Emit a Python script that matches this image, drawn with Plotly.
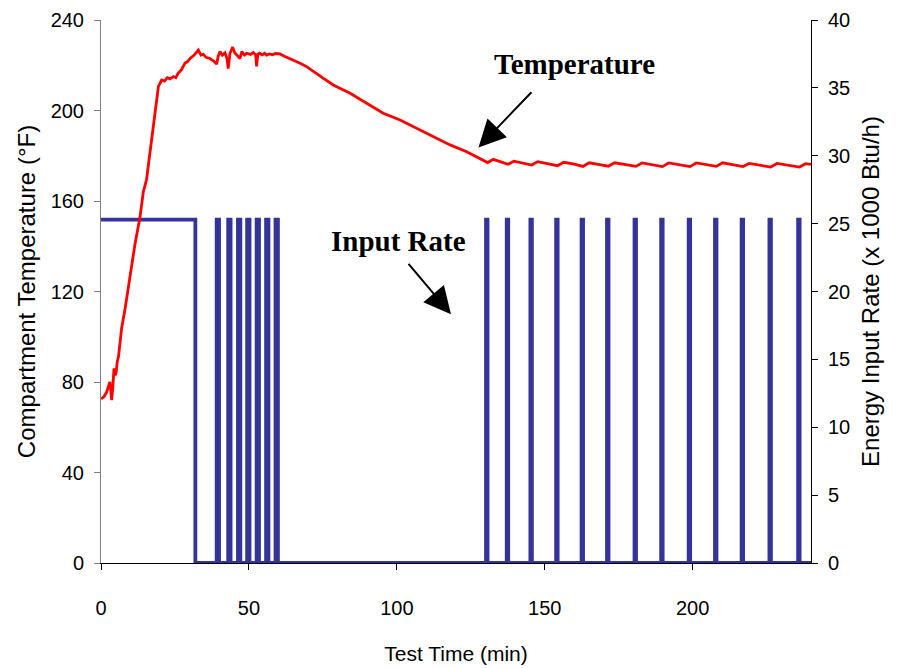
import plotly.graph_objects as go

# ---------------- data ----------------
time_min = [0, 1, 1.9, 2.6, 3.0, 3.4, 3.6, 4.0, 4.4, 4.8, 5.1, 5.5, 5.9, 7.0, 8.1, 9.8,
            11.5, 13.2, 14.3, 15.4, 16.6, 18.3, 19.4, 20.5, 21.5, 22.4, 23.3, 24.5, 25.3,
            26.1, 27.2, 28.4, 29.2, 30.1, 31.5, 32.9, 33.8, 34.6, 35.5, 36.8, 38.0, 39.1,
            39.6, 40.2, 41.0, 41.9, 42.6, 43.0, 43.3, 43.6, 44.5, 45.2, 45.9, 47.0, 47.6,
            48.5, 49.3, 50.5, 51.5, 52.3, 52.6, 53.0, 53.6, 54.5, 55.3, 56.0, 57.0, 58.0,
            59.0, 60.5, 62.0, 63.9, 67.3, 69.5, 71.5, 75.2, 78.5, 80.8, 84.2, 89.8, 95.4,
            101.1, 106.7, 112.3, 118.0, 123.6, 129.8, 130.7, 132.6, 135.0, 137.6, 139.6,
            142.5, 145.6, 147.6, 151.0, 154.3, 156.4, 160.0, 162.9, 165.0, 168.5, 171.5,
            173.6, 177.5, 180.8, 182.9, 186.5, 189.8, 191.9, 195.5, 199.1, 201.2, 204.5,
            208.0, 210.1, 213.5, 217.0, 219.1, 222.5, 226.4, 228.5, 232.0, 236.1, 238.2, 240]
temp_F = [72.5, 73.5, 75.5, 78.5, 80.0, 75.0, 72.0, 78.0, 86.0, 83.0, 84.0, 89.0, 91.0, 104.0,
          112.0, 126.5, 141.0, 153.0, 164.0, 169.5, 182.5, 200.0, 210.5, 213.5, 213.0, 214.5,
          214.0, 215.0, 214.5, 216.5, 218.0, 221.0, 221.5, 223.0, 224.5, 226.7, 224.5, 224.8,
          223.5, 223.0, 222.0, 220.5, 224.0, 226.0, 224.5, 225.5, 223.0, 218.5, 223.0, 225.3,
          228.0, 225.5, 224.5, 223.0, 226.0, 224.5, 225.3, 224.8, 225.6, 224.6, 219.5, 224.8,
          225.3, 224.6, 225.3, 224.5, 225.0, 224.6, 225.2, 225.0, 224.0, 223.0, 220.9, 219.4,
          217.5, 214.2, 211.3, 209.8, 207.6, 203.2, 198.8, 195.8, 192.1, 188.2, 184.8, 181.8,
          177.7, 177.0, 178.4, 177.3, 176.2, 177.6, 176.9, 175.9, 177.4, 176.6, 175.6, 177.1,
          176.3, 175.3, 176.9, 176.1, 175.4, 176.9, 176.0, 175.3, 176.8, 176.0, 175.2, 176.8,
          176.0, 175.2, 176.8, 176.0, 175.3, 176.9, 176.0, 175.2, 176.6, 175.8, 175.0, 176.6,
          175.8, 175.0, 176.5, 176.2]

# burner on / off times (min) and input rate while on (x 1000 Btu/h)
heat_on = [0, 39.1, 43.0, 46.3, 49.4, 52.6, 55.8, 59.0,
           130.15, 137.15, 145.15, 153.85, 162.45, 171.05, 180.35, 189.35, 198.65,
           207.55, 216.55, 225.95, 235.65]
heat_off = [31.9, 39.9, 43.8, 47.1, 50.2, 53.4, 56.6, 59.8,
            130.65, 137.65, 145.65, 154.35, 162.95, 171.55, 180.85, 189.85, 199.15,
            208.05, 217.05, 226.45, 236.15]
input_rate_on = 25.3
test_end = 240

x_ticks = [0, 50, 100, 150, 200]
temp_ticks = [0, 40, 80, 120, 160, 200, 240]
rate_ticks = [0, 5, 10, 15, 20, 25, 30, 35, 40]

# ---------------- build step series ----------------
rate_x, rate_y = [], []
for on, off in zip(heat_on, heat_off):
    if on > 0:
        rate_x.append(on); rate_y.append(0)
    rate_x += [on, off, off]
    rate_y += [input_rate_on, input_rate_on, 0]
rate_x.append(test_end); rate_y.append(0)

FONT = "Liberation Sans, Arial, sans-serif"
SERIF = "Liberation Serif, Times New Roman, serif"

fig = go.Figure()
# input rate on primary y (placed on right side)
fig.add_trace(go.Scatter(x=rate_x, y=rate_y, mode="lines", yaxis="y",
                         line=dict(color="#333399", width=3.8), showlegend=False,
                         name="Input Rate"))
# temperature on overlaying y2 (placed on left side) so it draws on top
fig.add_trace(go.Scatter(x=time_min, y=temp_F, mode="lines", yaxis="y2",
                         line=dict(color="#FF0000", width=2.8), showlegend=False,
                         name="Temperature"))

fig.update_layout(
    width=898, height=668,
    margin=dict(l=101, r=87, t=20, b=105),
    paper_bgcolor="white", plot_bgcolor="white",
    font=dict(family=FONT, color="black", size=20),
    xaxis=dict(range=[0, 240], tickvals=x_ticks, ticks="outside", ticklen=6,
               tickcolor="black", showline=True, linecolor="black", linewidth=1,
               showgrid=False, zeroline=False, tickfont=dict(size=20),
               ticklabelstandoff=21, automargin=False,
               title=dict(text="Test Time (min)", font=dict(size=21), standoff=28)),
    yaxis=dict(range=[0, 40], tickvals=rate_ticks, side="right", ticks="outside",
               ticklen=6, tickcolor="black", showline=True, linecolor="black",
               linewidth=1, showgrid=False, zeroline=False, tickfont=dict(size=20),
               ticklabelstandoff=6, automargin=False,
               title=dict(text="Energy Input Rate (x 1000 Btu/h)", font=dict(size=24),
                          standoff=12)),
    yaxis2=dict(range=[0, 240], tickvals=temp_ticks, side="left", overlaying="y",
                ticks="outside", ticklen=6, tickcolor="#808080", showline=True,
                linecolor="#808080", linewidth=1, showgrid=False, zeroline=False,
                tickfont=dict(size=20), ticklabelstandoff=6, automargin=False,
                title=dict(text="Compartment Temperature (°F)", font=dict(size=24),
                           standoff=8)),
)

# labels
fig.add_annotation(x=160.2, y=220.5, xref="x", yref="y2", text="<b>Temperature</b>",
                   showarrow=False, font=dict(family=SERIF, size=29, color="black"))
fig.add_annotation(x=100.4, y=142.5, xref="x", yref="y2", text="<b>Input Rate</b>",
                   showarrow=False, font=dict(family=SERIF, size=29, color="black"))
# arrows
fig.add_annotation(x=127.6, y=183.7, xref="x", yref="y2", text="", showarrow=True,
                   ax=54.4, ay=-56.6, arrowhead=2, arrowsize=2.7, arrowwidth=2,
                   arrowcolor="black", standoff=0)
fig.add_annotation(x=118.3, y=109.9, xref="x", yref="y2", text="", showarrow=True,
                   ax=-43.7, ay=-52, arrowhead=2, arrowsize=2.7, arrowwidth=2,
                   arrowcolor="black", standoff=0)

fig.write_html("out.html")
